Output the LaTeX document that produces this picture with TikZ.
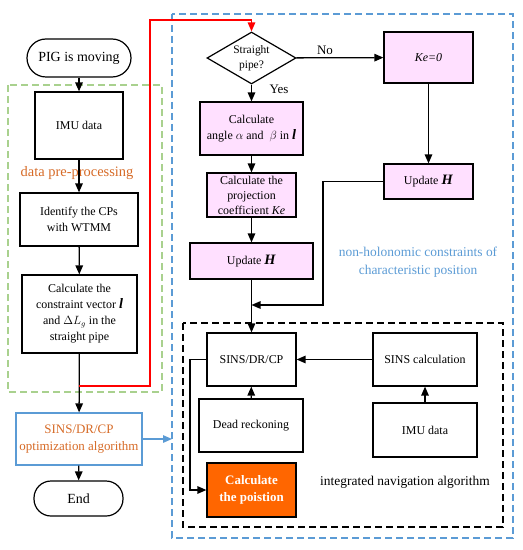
\documentclass[tikz,border=0pt]{standalone}
\usepackage{fontspec}
\setmainfont{Liberation Serif}
\usepackage{amsmath,amssymb}
\usetikzlibrary{arrows.meta,shapes.geometric}
\definecolor{pinkfill}{RGB}{255,224,255}
\definecolor{orangefill}{RGB}{255,102,0}
\definecolor{orangetext}{RGB}{214,106,38}
\definecolor{bluedash}{RGB}{91,155,213}
\definecolor{greendash}{RGB}{169,209,142}

\begin{document}
\begin{tikzpicture}[x=1bp,y=-1bp,
  box/.style={draw,line width=1.2bp,align=center,inner sep=1bp,font=\fontsize{12}{16}\selectfont},
  pinkbox/.style={box,fill=pinkfill},
  term/.style={draw,line width=1.2bp,rounded corners=17bp,minimum width=89bp,minimum height=35bp},
  arr/.style={line width=1.3bp,-{Triangle[length=9bp,width=7.5bp]}},
  ln/.style={line width=1.3bp}]
  \useasboundingbox (0,0) rectangle (523,550);
  % dashed frames
  \draw[greendash,line width=1.3bp,dash pattern=on 7bp off 4bp] (8,85) rectangle (162,392);
  \draw[bluedash,line width=1.3bp,dash pattern=on 7bp off 4bp] (172,14) rectangle (513,538);
  \draw[line width=1.3bp,dash pattern=on 7bp off 4bp] (183,323) rectangle (503,527);
  \coordinate (bluein) at (172,439);
  % left column
  \node[term,minimum width=104bp,minimum height=38bp,rounded corners=19bp,font=\fontsize{14}{16}\selectfont] (start) at (79,58) {PIG is moving};
  \node[box,minimum width=88bp,minimum height=67bp] (imua) at (79,125.5) {IMU data};
  \node[box,minimum width=118bp,minimum height=53bp] (ident) at (79,219.5) {Identify the CPs\\with WTMM};
  \node[box,minimum width=115bp,minimum height=78bp] (constr) at (79.5,314) {Calculate the\\constraint vector \textbf{\textit{\Large l}}\\and $\Delta L_g$ in the\\straight pipe};
  \node[box,draw=bluedash,text=orangetext,minimum width=126bp,minimum height=52bp,font=\fontsize{13}{17}\selectfont] (opt) at (79,439) {SINS/DR/CP\\optimization algorithm};
  \node[term,font=\fontsize{14}{16}\selectfont] (stop) at (78.5,498.5) {End};
  \node[text=orangetext,font=\fontsize{14.5}{16}\selectfont] at (77,173) {data pre-processing};
  % constraint part
  \node[draw,line width=1.2bp,diamond,aspect=1.7,inner sep=0bp,minimum width=89bp,minimum height=52bp,align=center,font=\fontsize{11.5}{15}\selectfont] (straight) at (251.5,58) {Straight\\pipe?};
  \node[pinkbox,minimum width=89bp,minimum height=51bp] (kezero) at (428.5,57.5) {\textit{Ke=0}};
  \node[pinkbox,minimum width=103bp,minimum height=53bp] (angle) at (251.5,128.5) {Calculate\\angle $\alpha$ and \ $\beta$ in \textbf{\textit{\Large l}}};
  \node[pinkbox,minimum width=89bp,minimum height=44bp,font=\fontsize{12}{15}\selectfont] (proj) at (251.5,195) {Calculate the\\projection\\coefficient \textit{Ke}};
  \node[pinkbox,minimum width=123bp,minimum height=36bp] (updl) at (251.5,261) {Update \textbf{\textit{\Large H}}};
  \node[pinkbox,minimum width=89bp,minimum height=35bp] (updr) at (428.5,181.5) {Update \textbf{\textit{\Large H}}};
  \node[text=bluedash,align=center,font=\fontsize{13.5}{18}\selectfont] at (418,262) {non-holonomic constraints of\\characteristic position};
  \node[font=\fontsize{13}{14}\selectfont] at (325,50) {No};
  \node[font=\fontsize{13}{14}\selectfont] at (279,89) {Yes};
  % integrated navigation
  \node[box,minimum width=89bp,minimum height=53bp] (sdc) at (251.5,359.5) {SINS/DR/CP};
  \node[box,minimum width=104bp,minimum height=53bp] (sinscalc) at (425,359.5) {SINS calculation};
  \node[box,minimum width=104bp,minimum height=53bp] (dead) at (251,425.5) {Dead reckoning};
  \node[box,minimum width=104bp,minimum height=54bp] (imub) at (425,430) {IMU data};
  \node[draw,line width=1.2bp,fill=orangefill,text=white,align=center,minimum width=89bp,minimum height=54bp,font=\bfseries\fontsize{13}{17}\selectfont] (calcpos) at (251.5,490) {Calculate\\the poistion};
  \node[font=\fontsize{13.5}{15}\selectfont] at (405,482) {integrated navigation algorithm};
  % connectors
  \draw[arr] (start) -- (imua);
  \draw[arr] (imua) -- (ident);
  \draw[arr] (ident) -- (constr);
  \draw[arr] (constr) -- (opt);
  \draw[arr] (opt) -- (stop);
  \draw[red,line width=1.3bp,-{Triangle[length=9bp,width=7.5bp]}] (79,386) -- (150,386) -- (150,20) -- (straight.north |- 0,20) -- (straight.north);
  \draw[bluedash,line width=1.3bp,-{Triangle[length=9bp,width=7.5bp]}] (opt) -- (bluein);
  \draw[arr] (straight) -- (kezero);
  \draw[arr] (straight) -- (angle);
  \draw[arr] (angle) -- (proj);
  \draw[arr] (proj) -- (updl);
  \draw[arr] (kezero) -- (updr);
  \draw[arr] (updl) -- (sdc);
  \draw[arr] (updr.west) -- (323,181.5) -- (323,305) -- (251.5,305);
  \draw[arr] (sinscalc) -- (sdc);
  \draw[arr] (imub) -- (sinscalc);
  \draw[arr] (dead) -- (sdc);
  \draw[arr] (sdc.west) -- (190,359.5) -- (190,490) -- (calcpos.west);
\end{tikzpicture}
\end{document}
